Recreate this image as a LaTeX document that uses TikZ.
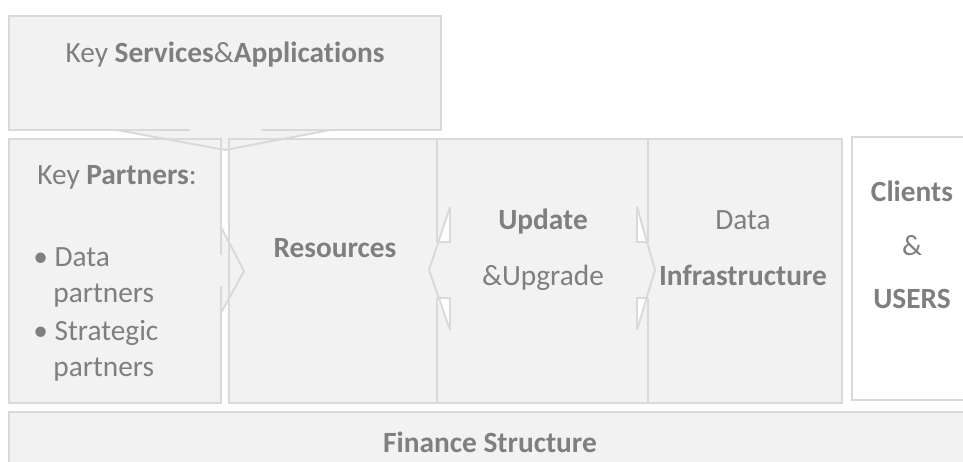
\documentclass[tikz,border=0pt]{standalone}
\usepackage{fontspec}
\setmainfont{Carlito}[Ligatures=NoCommon]
\usetikzlibrary{positioning}
\definecolor{boxfill}{HTML}{F2F2F2}
\definecolor{boxline}{HTML}{D9D9D9}
\definecolor{txtgray}{HTML}{7F7F7F}

\begin{document}
\begin{tikzpicture}[
  x=0.02cm, y=-0.02cm,
  panel/.style={fill=boxfill},
  hole/.style={fill=white},
  rim/.style={draw=boxline,line width=1.1pt},
  lab/.style={text=txtgray,inner sep=0pt,anchor=base,font=\fontsize{16.7}{20}\selectfont},
  blab/.style={lab,font=\fontsize{16.7}{20}\selectfont\bfseries}
]
\useasboundingbox (0,0) rectangle (963,462);

% ===================== fills =====================
\fill[panel] (9,16) rectangle (441,130);
\fill[panel] (117,130) -- (225,150) -- (330,130) -- cycle;
\fill[panel] (9,139) rectangle (221,403);
\fill[panel] (221,227) -- (244,271) -- (221,313) -- cycle;
\fill[panel] (229,139) rectangle (842,403);
\fill[hole] (852,137) rectangle (975,400);
\fill[panel] (9,412) rectangle (975,475);

% small notches of the double arrow
\fill[hole] (450,207) -- (450,242) -- (437,242) -- cycle;
\fill[hole] (437,298) -- (450,298) -- (450,330) -- cycle;
\fill[hole] (637,207) -- (637,242) -- (648,242) -- cycle;
\fill[hole] (648,298) -- (637,298) -- (637,330) -- cycle;

% ===================== TOP: services box =====================
\draw[rim] (190,130) -- (9,130) -- (9,16) -- (441,16) -- (441,130) -- (261,130);
\draw[rim] (117,130) -- (225,150) -- (330,130);

% ===================== MIDDLE: row of boxes =====================
% partners
\draw[rim] (221,255) -- (221,139) -- (9,139) -- (9,403) -- (221,403) -- (221,286);
\draw[rim] (221,227) -- (244,271) -- (221,313);
% resources
\draw[rim] (437,139) -- (229,139) -- (229,403) -- (437,403);
% update, left head
\draw[rim] (437,139) -- (437,242);
\draw[rim] (437,298) -- (437,403);
\draw[rim] (450,207) -- (429,270) -- (450,330);
\draw[rim] (437,242) -- (450,242) -- (450,207);
\draw[rim] (437,298) -- (450,298) -- (450,330);
% update, right head
\draw[rim] (437,139) -- (842,139) -- (842,403) -- (437,403);
\draw[rim] (648,139) -- (648,242);
\draw[rim] (648,298) -- (648,403);
\draw[rim] (637,207) -- (655,270) -- (637,330);
\draw[rim] (648,242) -- (637,242) -- (637,207);
\draw[rim] (648,298) -- (637,298) -- (637,330);
% clients
\draw[rim] (975,137) -- (852,137) -- (852,400) -- (975,400);

% ===================== BOTTOM: finance bar =====================
\draw[rim] (975,412) -- (9,412) -- (9,475);

% ===================== texts =====================
\node[lab] (services) at (225,63) {Key \textbf{Services}\&\textbf{Applications}};
\node[lab] (partners) at (117,185) {Key \textbf{Partners}:};
\node[lab,anchor=base west] (dp1) at (33,267) {\textbullet\ Data};
\node[lab,anchor=base west] (dp2) at (53,303) {partners};
\node[lab,anchor=base west] (sp1) at (33,340) {\textbullet\ Strategic};
\node[lab,anchor=base west] (sp2) at (53,377) {partners};
\node[blab] (resources) at (335,258) {Resources};
\node[blab] (update) at (543,230) {Update};
\node[lab] (upgrade) at (543,286) {\&Upgrade};
\node[lab] (data) at (743,230) {Data};
\node[blab] (infra) at (743,286) {Infrastructure};
\node[blab] (clients) at (912,202) {Clients};
\node[lab] (amp) at (912,256) {\&};
\node[blab] (users) at (912,309) {USERS};
\node[blab] (finance) at (490,452) {Finance Structure};

\end{tikzpicture}
\end{document}
